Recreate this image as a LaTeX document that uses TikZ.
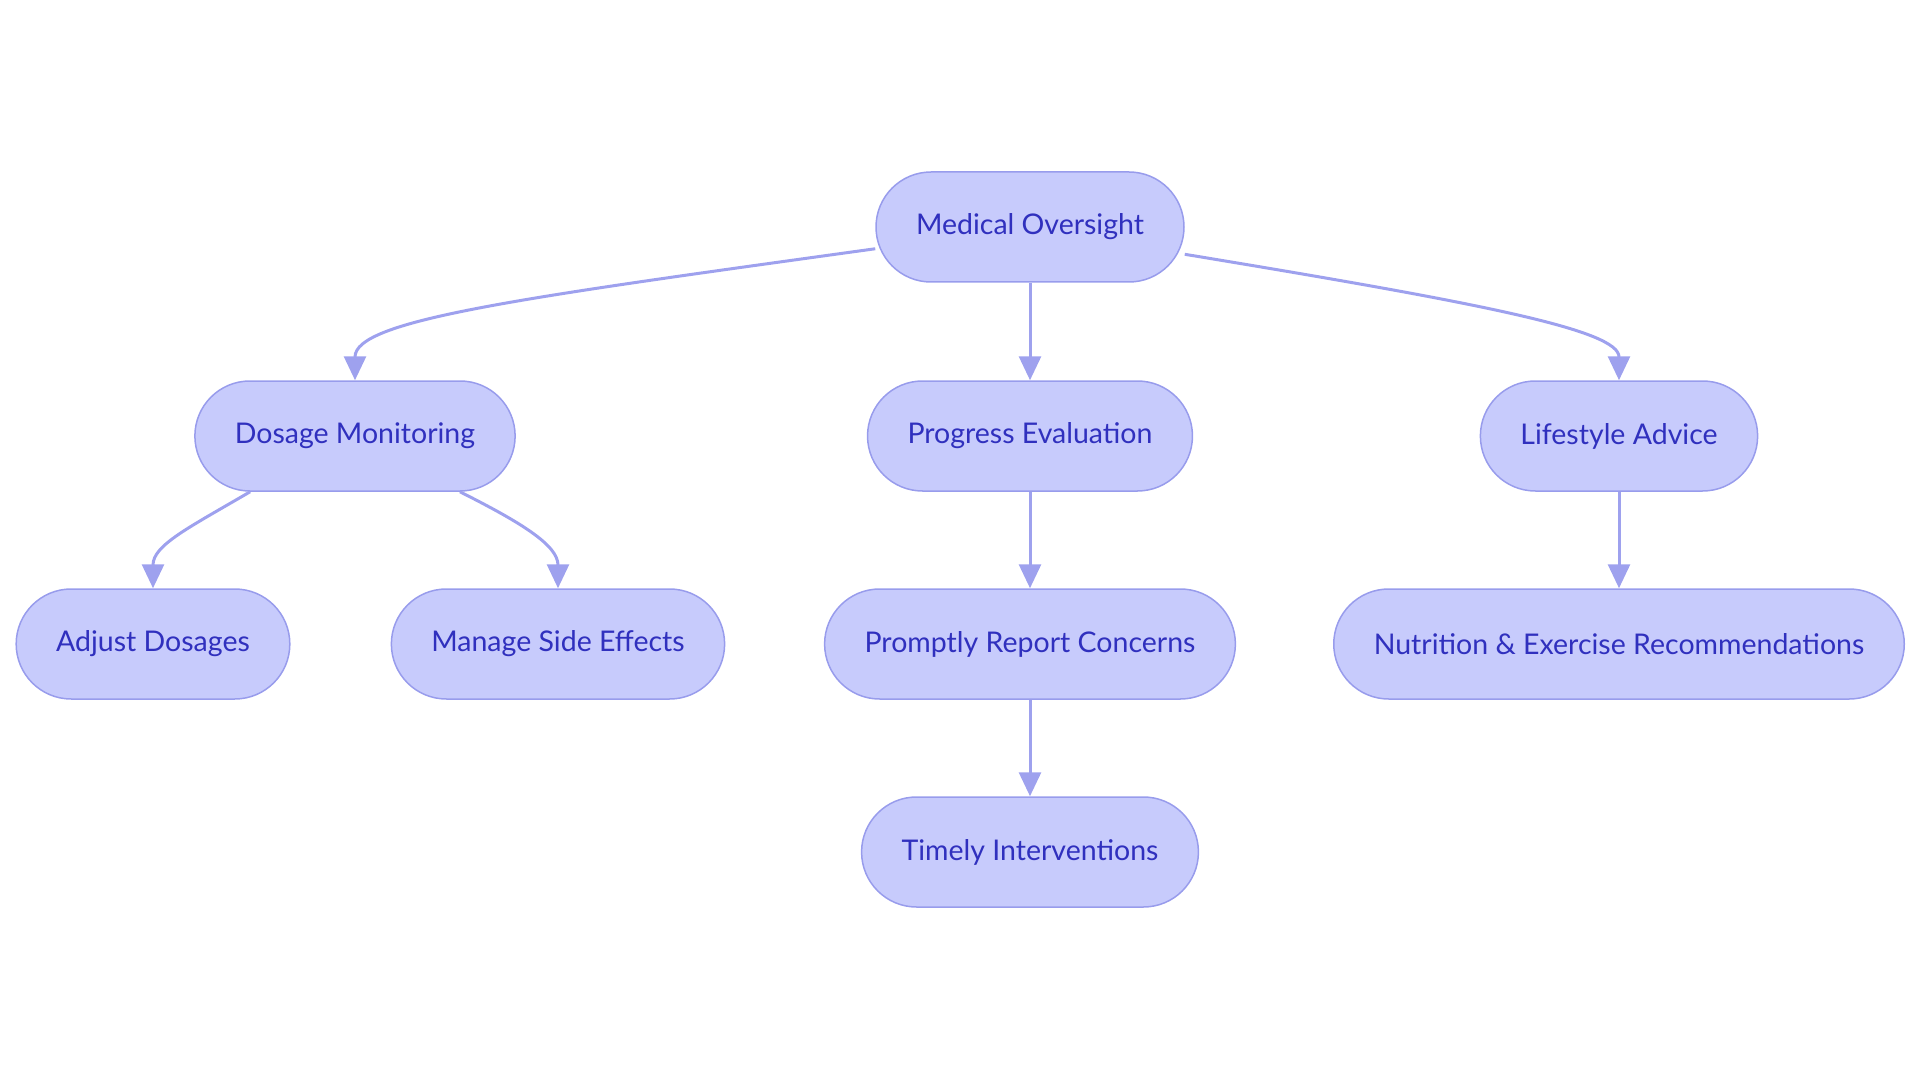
\documentclass[tikz,border=0pt]{standalone}
\usepackage{fontspec}
\setmainfont{Lato}
\usetikzlibrary{arrows.meta}
\definecolor{pillfill}{RGB}{199,203,252}
\definecolor{pillline}{RGB}{152,156,236}
\definecolor{linkline}{RGB}{158,161,238}
\definecolor{pilltext}{RGB}{48,48,190}
\tikzset{pill/.style={draw=pillline, fill=pillfill, line width=1.5pt, rounded corners=55pt, minimum height=110pt, inner xsep=40pt, text=pilltext, font=\fontsize{28.5}{34}\selectfont},
         link/.style={draw=linkline, line width=3pt, -{Triangle[width=22pt,length=24pt]}}}

\begin{document}
\begin{tikzpicture}[x=1pt,y=-1pt]
  \useasboundingbox (0,0) rectangle (1920,1083);
  \node[pill] (mo)  at (1030,227) {Medical Oversight};
  \node[pill] (dm)  at ( 355,436) {Dosage Monitoring};
  \node[pill] (pe)  at (1030,436) {Progress Evaluation};
  \node[pill] (la)  at (1619,436) {Lifestyle Advice};
  \node[pill] (ad)  at ( 153,644) {Adjust Dosages};
  \node[pill] (ms)  at ( 558,644) {Manage Side Effects};
  \node[pill] (prc) at (1030,644) {Promptly Report Concerns};
  \node[pill] (ner) at (1619,644) {Nutrition \& Exercise Recommendations};
  \node[pill] (ti)  at (1030,852) {Timely Interventions};
  \draw[link] (mo.188) .. controls (520,298) and (355,320) .. (dm.north);
  \draw[link] (mo.350) .. controls (1480,303) and (1619,330) .. (la.north);
  \draw[link] (mo.south) -- (pe.north);
  \draw[link] (dm.208) .. controls (190,527) and (153,545) .. (ad.north);
  \draw[link] (dm.332) .. controls (520,522) and (558,545) .. (ms.north);
  \draw[link] (pe.south) -- (prc.north);
  \draw[link] (prc.south) -- (ti.north);
  \draw[link] (la.south) -- (ner.north);
\end{tikzpicture}
\end{document}
